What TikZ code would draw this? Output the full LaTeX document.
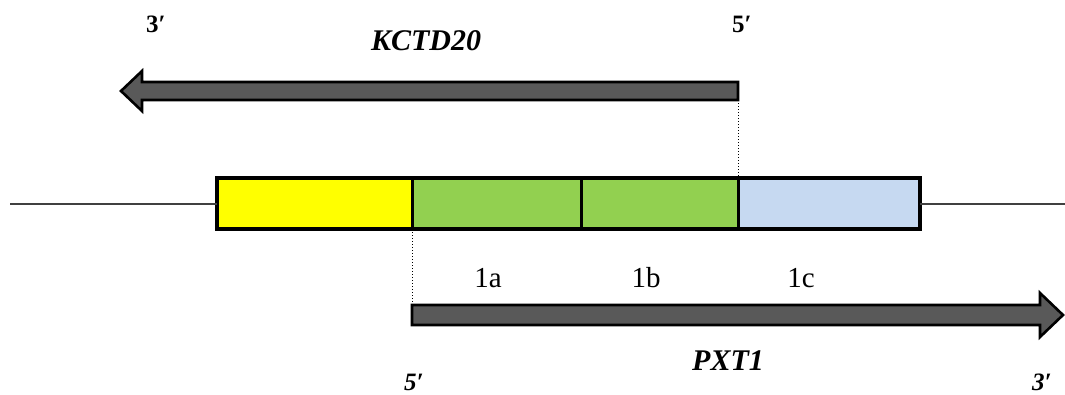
\documentclass[tikz,border=0pt]{standalone}
\usepackage{fontspec}
\setmainfont{Liberation Serif}
\begin{document}
\begin{tikzpicture}[x=1pt,y=-1pt,
  seg/.style={draw=black,line width=3pt,anchor=north west,minimum height=51pt,inner sep=0pt,outer sep=0pt},
  gene/.style={draw=black,fill=arrowgray,line width=2.6pt,line join=miter},
  genename/.style={anchor=base,inner sep=0pt,font=\fontsize{30}{30}\selectfont\bfseries\itshape},
  endlabel/.style={anchor=base,inner sep=0pt,font=\fontsize{25}{25}\selectfont\bfseries},
  endlabelit/.style={endlabel,font=\fontsize{25}{25}\selectfont\bfseries\itshape},
  exonlabel/.style={anchor=base,inner sep=0pt,font=\fontsize{29}{29}\selectfont},
  guide/.style={dotted,line width=1pt}]
\definecolor{yellowc}{HTML}{FFFF00}
\definecolor{greenc}{HTML}{92D050}
\definecolor{bluec}{HTML}{C6D9F1}
\definecolor{arrowgray}{HTML}{595959}
\definecolor{linegray}{HTML}{404040}
\useasboundingbox (0,0) rectangle (1065,394);

% chromosome line
\coordinate (lineL) at (10,204);
\coordinate (lineR) at (1065,204);

% exon blocks
\node[seg,fill=yellowc,minimum width=195pt] (ex0) at (217,178) {};
\node[seg,fill=greenc,minimum width=169pt] (exa) at (412,178) {};
\node[seg,fill=greenc,minimum width=157pt] (exb) at (581,178) {};
\node[seg,fill=bluec,minimum width=182pt] (exc) at (738,178) {};
\draw[line width=4.5pt] (ex0.north west) rectangle (exc.south east);
\draw[line width=1.3pt,linegray] (lineL) -- (lineL -| ex0.west);
\draw[line width=1.3pt,linegray] (lineR -| exc.east) -- (lineR);

% KCTD20 (reverse strand)
\draw[gene] (738,82) -- (142,82) -- (142,71) -- (121,91) -- (142,111) -- (142,100) -- (738,100) -- cycle;
\coordinate (kcFoot) at (738,100);
\draw[guide] (kcFoot) -- (exb.north east);

% PXT1 (forward strand)
\draw[gene] (412,305) -- (1040,305) -- (1040,293) -- (1063,315) -- (1040,337) -- (1040,325) -- (412,325) -- cycle;
\coordinate (pxFoot) at (412,305);
\draw[guide] (ex0.south east) -- (pxFoot);

% labels
\node[endlabel] (kc3) at (156,32) {3′};
\node[endlabel] (kc5) at (742,32) {5′};
\node[genename] (kcname) at (426,50) {KCTD20};
\node[exonlabel] (la) at (488,287) {1a};
\node[exonlabel] (lb) at (646,287) {1b};
\node[exonlabel] (lc) at (801,287) {1c};
\node[genename] (pxname) at (728,370) {PXT1};
\node[endlabelit] (px5) at (414,390) {5′};
\node[endlabelit] (px3) at (1042,390) {3′};
\end{tikzpicture}
\end{document}
